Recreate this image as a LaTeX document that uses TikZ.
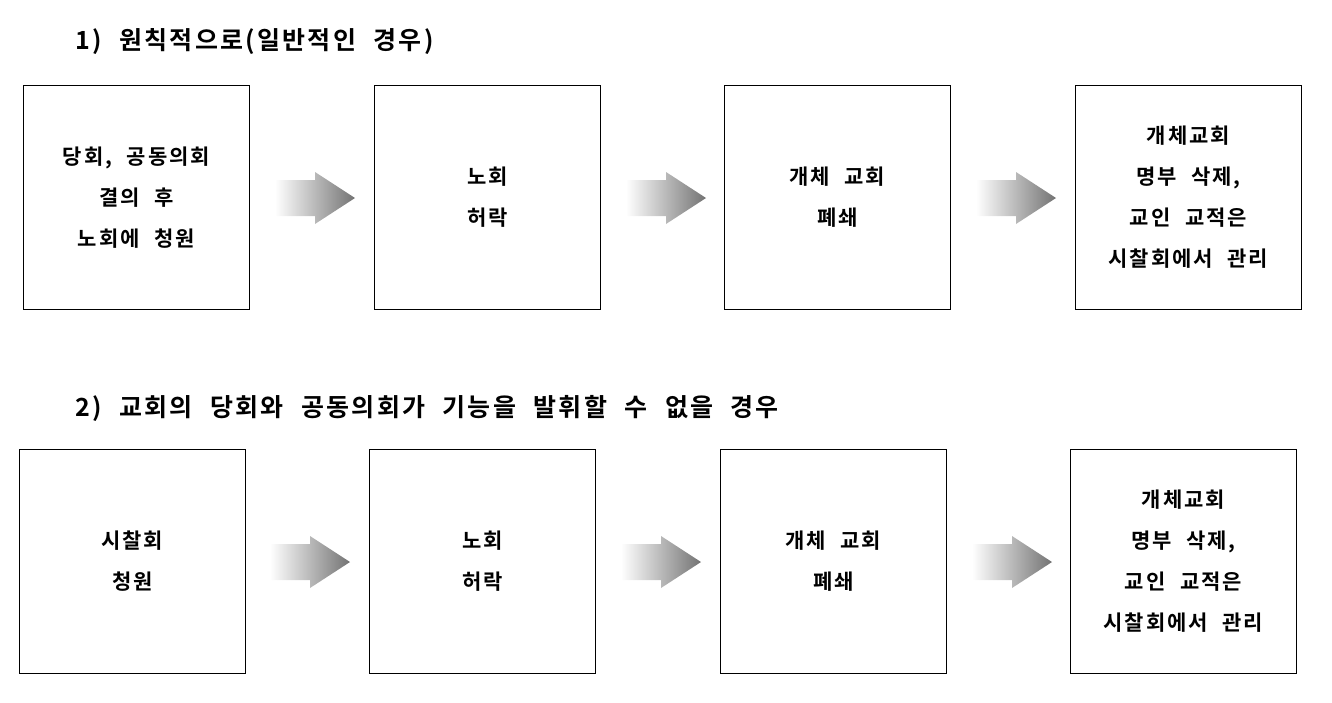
\documentclass[tikz,border=0pt]{standalone}
\usepackage{fontspec}
\newfontfamily\cjk{Noto Sans CJK KR}[BoldFont={Noto Sans CJK KR Bold},WordSpace=2.2,LetterSpace=9]
\begin{document}
\begin{tikzpicture}[x=1pt,y=-1pt,
  box/.style={draw,line width=0.8pt,minimum width=226pt,minimum height=224pt,anchor=north west,align=center,font=\cjk\bfseries\fontsize{21}{41}\selectfont},
  ttl/.style={anchor=west,font=\cjk\bfseries\fontsize{25}{25}\selectfont}]
\useasboundingbox (0,0) rectangle (1332,702);
\newcommand{\garrow}[2]{\shade[left color=white,right color=black!55] (#1,#2-18) -- (#1+40,#2-18) -- (#1+40,#2-26) -- (#1+80,#2) -- (#1+40,#2+26) -- (#1+40,#2+18) -- (#1,#2+18) -- cycle;}
\node[ttl] (t1) at (72,42) {1) 원칙적으로(일반적인 경우)};
\node[box] (a1) at (23,85) {당회, 공동의회\\결의 후\\노회에 청원};
\node[box] (a2) at (374,85) {노회\\허락};
\node[box] (a3) at (724,85) {개체 교회\\폐쇄};
\node[box] (a4) at (1075,85) {개체교회\\명부 삭제,\\교인 교적은\\시찰회에서 관리};
\garrow{275}{198}\garrow{626}{198}\garrow{976}{198}
\node[ttl] (t2) at (72,408) {2) 교회의 당회와 공동의회가 기능을 발휘할 수 없을 경우};
\node[box] (b1) at (19,449) {시찰회\\청원};
\node[box] (b2) at (369,449) {노회\\허락};
\node[box] (b3) at (720,449) {개체 교회\\폐쇄};
\node[box] (b4) at (1070,449) {개체교회\\명부 삭제,\\교인 교적은\\시찰회에서 관리};
\garrow{270}{562}\garrow{621}{562}\garrow{972}{562}
\end{tikzpicture}
\end{document}
